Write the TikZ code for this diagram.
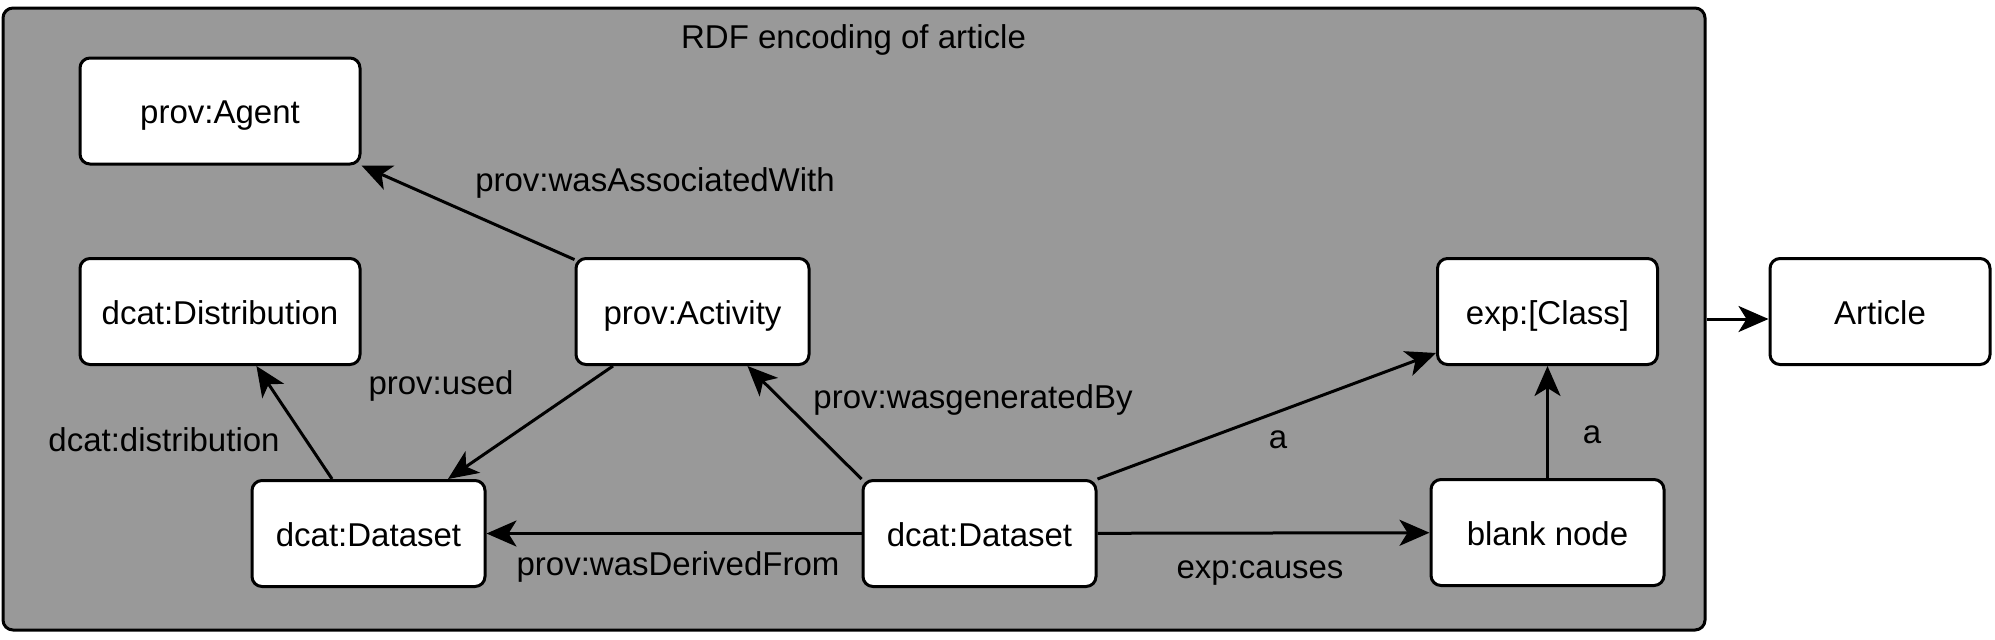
\documentclass[tikz,border=0pt]{standalone}
\usepackage{fontspec}
\setmainfont{Liberation Sans}
\usepackage{tikz}
\usetikzlibrary{arrows.meta,positioning,calc}
\definecolor{grisF}{HTML}{999999}
\newcommand{\pol}{\fontsize{16.5}{20}\selectfont}
\tikzset{
  boite/.style={rectangle, rounded corners=5pt, draw=black, line width=1.5pt, fill=white,
                align=center, font=\pol, minimum width=#1, minimum height=53pt,
                text height=12.8pt, text depth=0pt},
  boite/.default=116.5pt,
  cadre/.style={rectangle, rounded corners=5pt, draw=black, line width=1.5pt, fill=grisF},
  etiq/.style={font=\pol, inner sep=0pt},
  fleche/.style={-{Stealth[length=15pt, width=13pt, inset=4pt]}, line width=1.5pt, draw=black},
}

\begin{document}
\begin{tikzpicture}[x=0.5pt, y=-0.5pt]
    \useasboundingbox (0,0) rectangle (1995,639);
    \node[cadre, minimum width=851pt, minimum height=311pt] (rdf) at (854,319) {};
    \node[etiq] (titre) at (853.5,40) {RDF encoding of article};
    \node[boite=140pt] (agent) at (220,111) {prov:Agent};
    \node[boite=140pt] (dist) at (220,311.5) {dcat:Distribution};
    \node[boite] (act) at (692.5,311.5) {prov:Activity};
    \node[boite=110pt] (cls) at (1547.5,311.5) {exp:[Class]};
    \node[boite=110pt] (art) at (1880,311.5) {Article};
    \node[boite] (dsl) at (368.5,533.5) {dcat:Dataset};
    \node[boite, right=187.5pt of dsl] (dsm) {dcat:Dataset};
    \node[boite, below=56pt of cls] (blank) {blank node};
    \draw[fleche] (act) -- (agent.south east);
    \draw[fleche] (act) -- (dsl);
    \draw[fleche] (dsl) -- (dist);
    \draw[fleche] (dsm.north west) -- (act);
    \draw[fleche] (dsm) -- (dsl);
    \draw[fleche] (dsm.north east) -- (cls);
    \draw[fleche] (dsm) -- (blank);
    \draw[fleche] (blank) -- (cls);
    \draw[fleche] (rdf.east) -- (rdf.east -| art.west);
    \node[etiq] (lassoc) at (655,183) {prov:wasAssociatedWith};
    \node[etiq] (lused) at (441,386) {prov:used};
    \node[etiq] (ldistr) at (164,440) {dcat:distribution};
    \node[etiq] (lgen) at (973,400) {prov:wasgeneratedBy};
    \node[etiq] (lderiv) at (678,567) {prov:wasDerivedFrom};
    \node[etiq] (lacls) at (1278,440) {a};
    \node[etiq] (lcause) at (1260,573) {exp:causes};
    \node[etiq] (lablank) at (1592,435) {a};
  \end{tikzpicture}
\end{document}
